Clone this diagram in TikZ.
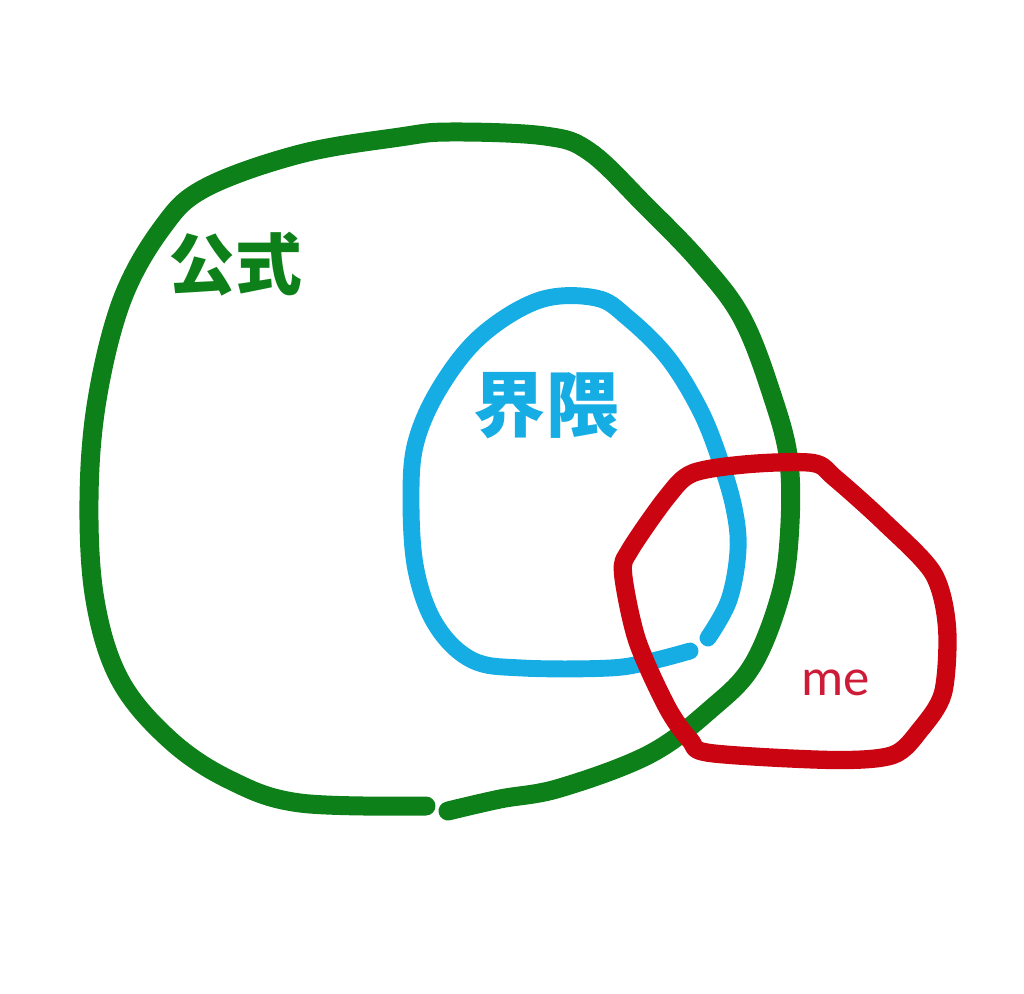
\documentclass[tikz,border=0pt]{standalone}
\usepackage{fontspec}
\newfontfamily\jpfont{Noto Sans CJK JP}
\newfontfamily\latinfont{Carlito}
\usetikzlibrary{positioning}

\definecolor{koshikigreen}{RGB}{14,128,26}
\definecolor{kaiwaiblue}{RGB}{22,172,228}
\definecolor{mered}{RGB}{202,4,16}
\definecolor{metext}{RGB}{206,28,56}

\tikzset
  { loop line/.style={line width=5.4pt, line cap=round, line join=round}
  , big label/.style={font=\jpfont\bfseries\fontsize{19pt}{19pt}\selectfont, inner sep=0pt}
  }

\begin{document}
\begin{tikzpicture}
    [ x=0.01cm, y=-0.01cm
    ]
  \useasboundingbox (0,0) rectangle (1024,994);
  % big green loop, open at the bottom
  \draw[loop line, koshikigreen] plot[smooth, tension=0.6] coordinates
    { (448,811) (500,799) (560,788) (650,754) (712,708) (752,666)
      (779,600) (789,540) (789,462) (772,395) (742,318) (700,262)
      (645,205) (590,152) (545,136) (450,132) (400,137) (300,154)
      (205,188) (162,228) (122,300) (97,400) (89,500) (95,600)
      (120,680) (170,740) (230,780) (300,803) (426,806) };
  % blue loop, with a small break near the red one
  \draw[loop line, kaiwaiblue, line width=4.8pt] plot[smooth, tension=0.6] coordinates
    { (708,638) (729,600) (738,550) (734,508) (720,460) (700,410)
      (668,358) (628,318) (596,298) (540,300) (482,335) (441,386)
      (416,442) (411,500) (416,570) (436,625) (472,660) (522,668)
      (610,668) (652,661) (690,651) };
  % red loop
  \draw[loop line, mered, line width=5.2pt] plot[smooth cycle, tension=0.5] coordinates
    { (693,473) (750,464) (813,463) (835,478) (884,522) (933,573)
      (947,627) (943,693) (920,730) (893,755) (833,760) (710,753)
      (690,740) (667,707) (637,640) (623,573) (630,550) (667,497) };
  \node[big label, text=koshikigreen] (koshiki) at (235,264) {公式};
  \node[big label, text=kaiwaiblue, font=\jpfont\bfseries\fontsize{20.5pt}{20.5pt}\selectfont] (kaiwai) at (546,406) {界隈};
  \node[text=metext, font=\latinfont\fontsize{15pt}{15pt}\selectfont, inner sep=0pt] (me) at (836,683) {me};
\end{tikzpicture}
\end{document}
